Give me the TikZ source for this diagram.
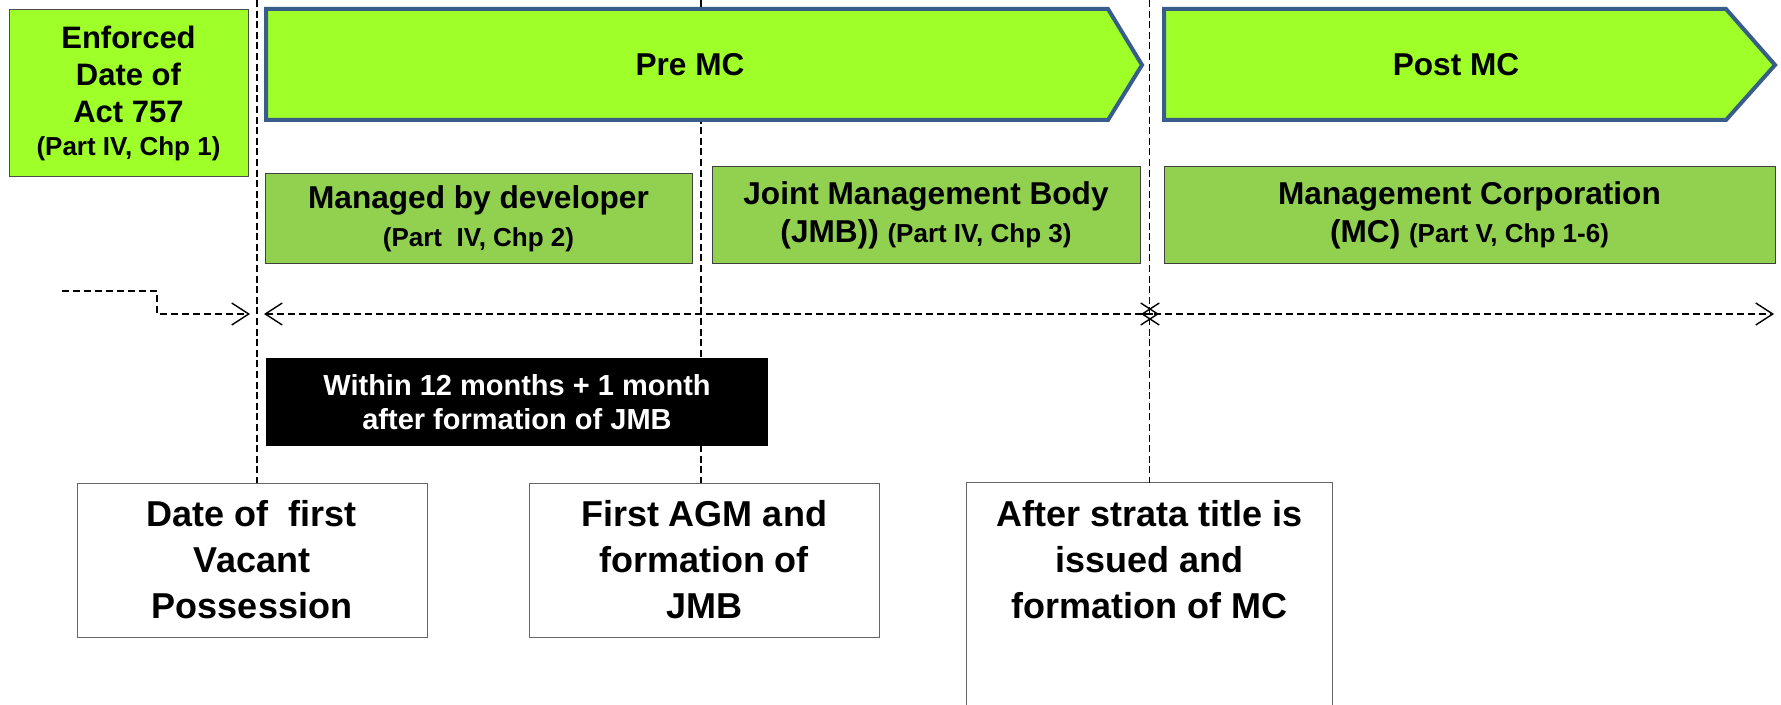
\documentclass[tikz,border=0pt]{standalone}
\usepackage{fontspec}
\setmainfont{Liberation Sans}
\usetikzlibrary{arrows.meta}
\definecolor{phasegreen}{RGB}{158,255,41}
\definecolor{phaseblue}{RGB}{56,93,138}
\definecolor{bodygreen}{RGB}{146,208,80}
\newcommand{\partfont}{\fontsize{13}{16}\selectfont}

\begin{document}
\begin{tikzpicture}[x=0.5pt,y=-0.5pt,
  phase/.style={draw=phaseblue, line width=2pt, fill=phasegreen},
  phasetext/.style={font=\bfseries\fontsize{15.8}{19}\selectfont},
  body/.style={draw=black!75, line width=0.5pt, fill=bodygreen, align=center, inner sep=0pt,
    font=\bfseries\fontsize{15.8}{19}\selectfont},
  event/.style={draw=black!60, line width=0.5pt, fill=white, align=center, inner sep=0pt,
    minimum width=175pt, minimum height=77pt, font=\bfseries\fontsize{18}{23}\selectfont},
  vline/.style={dash pattern=on 3.5pt off 1.8pt, line width=0.6pt},
  barb/.style={dash pattern=on 3.5pt off 2pt, line width=0.7pt},
  timespan/.style={barb, {Straight Barb[length=8.5pt,width=11pt]}-{Straight Barb[length=8.5pt,width=11pt]}}]
\clip (0,0) rectangle (1781,705);
\coordinate (ceiling) at (0,0);
\coordinate (floor) at (0,720);

% moments on the time line
\node (vp) [event] at (252,560) {Date of\ \ first\\Vacant\\Possession};
\node (agm) [event] at (704,560) {First AGM and\\formation of\\JMB};
\node (strata) [event, draw=none, minimum width=182.5pt] at (1149.5,560) {After strata title is\\issued and\\formation of MC};
\draw[black!60, line width=0.5pt] (strata.west |- floor) -- (strata.north west) -- (strata.north east) -- (strata.east |- floor);

\draw[vline] ([xshift=2.5pt]vp.north |- ceiling) -- ([xshift=2.5pt]vp.north);
\draw[vline] ([xshift=-1.5pt]agm.north |- ceiling) -- ([xshift=-1.5pt]agm.north);
\draw[vline] (strata.north |- ceiling) -- (strata.north);

% phases
\node (enforced) [draw=black!70, fill=phasegreen, minimum width=119.5pt, minimum height=83.5pt,
  inner sep=0pt, align=center, font=\bfseries\fontsize{15.5}{18.5}\selectfont] at (128.5,93)
  {Enforced\\Date of\\Act 757\\[-2pt]{\partfont (Part IV, Chp 1)}};
\draw[phase] (266,9) -- (1108,9) -- (1142,65) -- (1108,120) -- (266,120) -- cycle;
\node (pre) [phasetext] at (690,65) {Pre MC};
\draw[phase] (1164,9) -- (1726,9) -- (1775,65) -- (1726,120) -- (1164,120) -- cycle;
\node (post) [phasetext] at (1456,65) {Post MC};

\node (developer) [body, minimum width=213.5pt, minimum height=45pt] at (478.5,219)
  {Managed by developer\\{\partfont (Part\ \ IV, Chp 2)}};
\node (jmb) [body, minimum width=214pt, minimum height=48.5pt] at (926,215.5)
  {Joint Management Body\\(JMB)) {\partfont (Part IV, Chp 3)}};
\node (mc) [body, minimum width=305.5pt, minimum height=48.5pt] at (1469.5,215.5)
  {Management Corporation\\(MC) {\partfont (Part V, Chp 1-6)}};

% time line
\coordinate (stub) at (62,291);
\coordinate (vpleft) at (250,314);
\coordinate (prestart) at (264,314);
\coordinate (preend) at (1159,314);
\coordinate (poststart) at (1141,314);
\coordinate (postend) at (1774,314);
\draw[barb, -{Straight Barb[length=8.5pt,width=11pt]}] (stub) -- (157,291) |- (vpleft);
\draw[timespan] (prestart) -- (preend);
\draw[timespan] (poststart) -- (postend);

\node (period) [fill=black, text=white, minimum width=251pt, minimum height=43.5pt, inner sep=0pt,
  align=center, font=\bfseries\fontsize{14.5}{17}\selectfont] at (517,402)
  {Within 12 months + 1 month\\after formation of JMB};
\end{tikzpicture}
\end{document}
